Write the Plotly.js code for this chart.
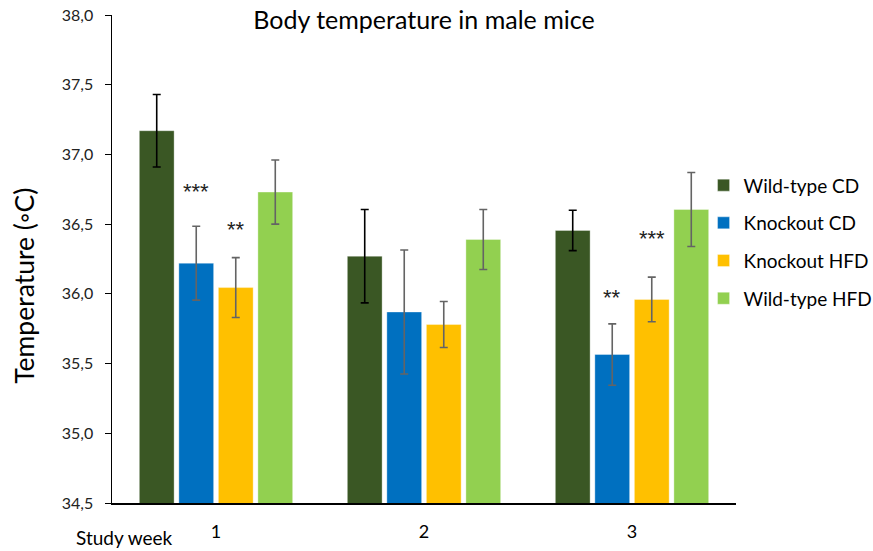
<!DOCTYPE html>
<html>
<head>
<meta charset="utf-8">
<script src="https://cdn.plot.ly/plotly-3.0.1.min.js"></script>
<style>html,body{margin:0;padding:0;background:#fff;}#chart{width:873px;height:551px;}</style>
</head>
<body>
<div id="chart"></div>
<script>
const weeks = ['1', '2', '3'];
const seriesNames = ['Wild-type CD', 'Knockout CD', 'Knockout HFD', 'Wild-type HFD'];
const wtCD = [37.17, 36.27, 36.455];
const koCD = [36.22, 35.87, 35.565];
const koHFD = [36.045, 35.78, 35.96];
const wtHFD = [36.73, 36.39, 36.605];
const wtCDErr = [0.26, 0.335, 0.145];
const koCDErr = [0.265, 0.445, 0.22];
const koHFDErr = [0.215, 0.165, 0.16];
const wtHFDErr = [0.23, 0.215, 0.265];
// significance marks: [series index, week index, label]
const sigSeries = [1, 2, 1, 2];
const sigWeek = [0, 0, 2, 2];
const sigLabel = ['***', '**', '**', '***'];

const colors = ['#3A5724', '#0070C0', '#FFC000', '#92D050'];
const errColors = ['#000000', '#646464', '#646464', '#646464'];
const values = [wtCD, koCD, koHFD, wtHFD];
const errs = [wtCDErr, koCDErr, koHFDErr, wtHFDErr];

const traces = values.map((v, i) => ({
  type: 'bar',
  name: seriesNames[i],
  x: weeks,
  y: v,
  legendgroup: 'g' + i,
  marker: {color: colors[i], line: {color: 'rgba(255,255,255,0.35)', width: 1}},
  error_y: {type: 'data', array: errs[i], visible: true, color: errColors[i], thickness: 1.6, width: 4},
  hoverinfo: 'x+y+name'
}));

// bar centre offsets inside a group (pixels) derived from bargap/groupgap
const plotW = 873 - 112 - 137;
const catPx = plotW / weeks.length;
const bargap = 0.24, groupgap = 0.12;
const groupPx = catPx * (1 - bargap);
const slotPx = groupPx / values.length;
const offsets = values.map((_, i) => -groupPx / 2 + slotPx * (i + 0.5));

const sigYOffset = [0.25, 0.2, 0.19, 0.28];
const annotations = sigLabel.map((t, k) => ({
  x: weeks[sigWeek[k]], y: values[sigSeries[k]][sigWeek[k]] + errs[sigSeries[k]][sigWeek[k]] + sigYOffset[k],
  xref: 'x', yref: 'y', text: t, showarrow: false,
  xshift: offsets[sigSeries[k]], font: {family: '"Liberation Sans", sans-serif', size: 22, color: '#222'}
}));
annotations.push({
  x: 0, xref: 'paper', xshift: 12, y: 0, yref: 'paper', yshift: -34,
  text: 'Study week', showarrow: false, xanchor: 'center', yanchor: 'middle',
  font: {family: 'Lato, sans-serif', size: 19, color: '#000'}
});
annotations.push({
  x: 0, xref: 'paper', xshift: -88, y: 0.445, yref: 'paper',
  text: 'Temperature (◦C)', textangle: -90, showarrow: false, xanchor: 'center', yanchor: 'middle',
  font: {family: 'Lato, sans-serif', size: 26.5, color: '#000'}
});

const layout = {
  width: 873, height: 551,
  margin: {l: 112, r: 137, t: 15, b: 48, autoexpand: false},
  paper_bgcolor: '#fff', plot_bgcolor: '#fff',
  barmode: 'group', bargap: bargap, bargroupgap: groupgap,
  title: {text: 'Body temperature in male mice', x: 0.5, xref: 'paper', xanchor: 'center',
          y: 0.963, yref: 'container', yanchor: 'middle',
          font: {family: 'Lato, sans-serif', size: 25, color: '#000'}},
  separators: ',.',
  font: {family: 'Lato, sans-serif', color: '#000'},
  xaxis: {
    showline: true, linecolor: '#000', linewidth: 1.5, ticks: '', showgrid: false,
    tickfont: {size: 18, color: '#000'}, ticklabelstandoff: 12, automargin: false
  },
  yaxis: {
    range: [34.5, 38.0], dtick: 0.5, tickformat: '.1f', showline: true, linecolor: '#000', linewidth: 1.5,
    ticks: 'outside', ticklen: 6, tickcolor: '#000', showgrid: false, zeroline: false,
    tickfont: {size: 16, color: '#222'}, ticklabelstandoff: 8, automargin: false
  },
  showlegend: true,
  legend: {x: 0.948, xanchor: 'left', y: 0.69, yanchor: 'top', tracegroupgap: 10,
           font: {size: 19, color: '#000'}, bgcolor: 'rgba(0,0,0,0)', itemwidth: 30},
  annotations: annotations
};

Plotly.newPlot('chart', traces, layout, {displayModeBar: false, staticPlot: true});
</script>
</body>
</html>
